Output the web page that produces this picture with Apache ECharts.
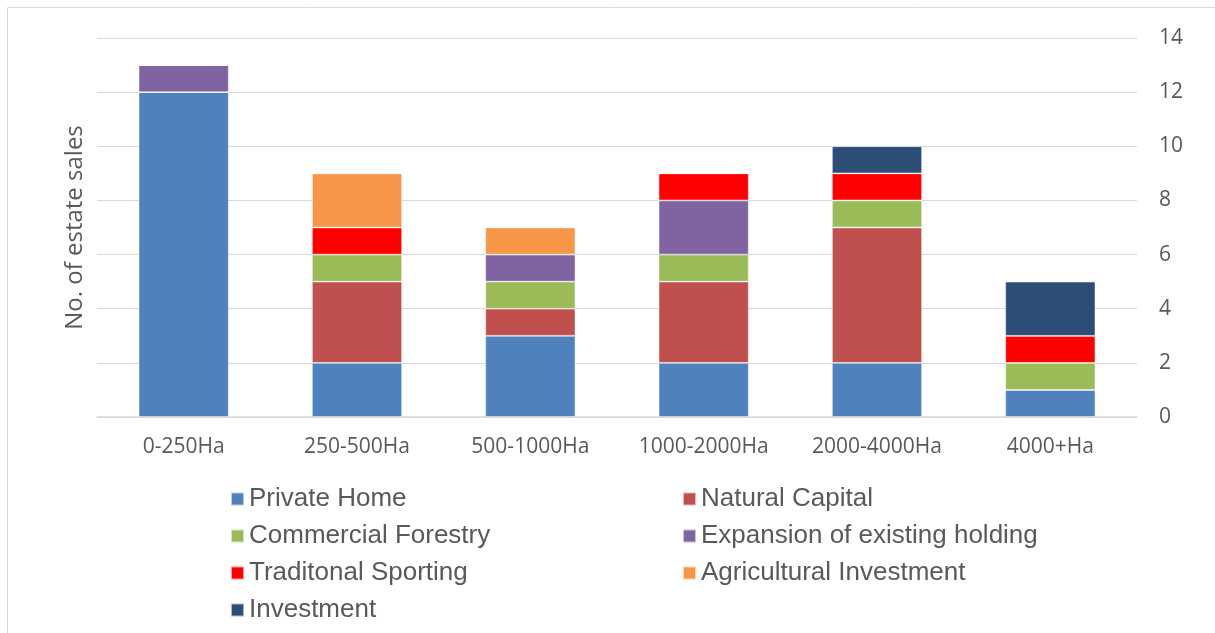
<!DOCTYPE html>
<html>
<head>
<meta charset="utf-8">
<script src="https://cdn.jsdelivr.net/npm/echarts@6/dist/echarts.min.js"></script>
<style>
  html, body { margin: 0; padding: 0; background: #fff; }
  #chart { width: 1215px; height: 633px; }
</style>
</head>
<body>
<div id="chart"></div>
<script>
const categories = ['0-250Ha', '250-500Ha', '500-1000Ha', '1000-2000Ha', '2000-4000Ha', '4000+Ha']
const yTicks = [0, 2, 4, 6, 8, 10, 12, 14]

const privateHome = [12, 2, 3, 2, 2, 1]
const naturalCapital = [0, 3, 1, 3, 5, 0]
const commercialForestry = [0, 1, 1, 1, 1, 1]
const expansion = [1, 0, 1, 2, 0, 0]
const traditionalSporting = [0, 1, 0, 1, 1, 1]
const agriculturalInvestment = [0, 2, 1, 0, 0, 0]
const investment = [0, 0, 0, 0, 1, 2]

const seriesDefs = [
  ['Private Home', privateHome, '#4f81bd'],
  ['Natural Capital', naturalCapital, '#c0504d'],
  ['Commercial Forestry', commercialForestry, '#9bbb59'],
  ['Expansion of existing holding', expansion, '#8064a2'],
  ['Traditonal Sporting', traditionalSporting, '#ff0000'],
  ['Agricultural Investment', agriculturalInvestment, '#f79646'],
  ['Investment', investment, '#2c4d75']
]

const chart = echarts.init(document.getElementById('chart'))

const axisFont = 'Open Sans, Noto Sans, sans-serif'
const legendText = { fontFamily: 'Liberation Sans, Arial', fontSize: 26, color: '#595959', lineHeight: 26 }

let options = {
  animation: false,
  textStyle: { fontFamily: 'Liberation Sans, Arial' },
  graphic: [{
    type: 'rect',
    shape: { x: 7.5, y: 7.5, width: 1230, height: 650 },
    style: { fill: 'none', stroke: '#d9d9d9', lineWidth: 1 },
    silent: true
  }],
  grid: { left: 97, right: 78, top: 38, bottom: 216 },
  legend: [{
    orient: 'vertical',
    left: 225, top: 481,
    itemWidth: 13, itemHeight: 13, itemGap: 11,
    icon: 'rect',
    textStyle: legendText,
    data: ['Private Home', 'Commercial Forestry', 'Traditonal Sporting', 'Investment']
  }, {
    orient: 'vertical',
    left: 677, top: 481,
    itemWidth: 13, itemHeight: 13, itemGap: 11,
    icon: 'rect',
    textStyle: legendText,
    data: ['Natural Capital', 'Expansion of existing holding', 'Agricultural Investment']
  }],
  xAxis: {
    type: 'category',
    data: categories,
    axisLine: { lineStyle: { color: '#d9d9d9', width: 1.5 } },
    axisTick: { show: false },
    axisLabel: { color: '#595959', fontSize: 21, margin: 20, fontFamily: axisFont }
  },
  yAxis: [{
    type: 'value',
    position: 'right',
    min: 0, max: 14, interval: 2,
    axisLine: { show: false },
    axisTick: { show: false },
    splitLine: { lineStyle: { color: '#d9d9d9' } },
    axisLabel: {
      color: '#595959', fontSize: 21, margin: 22, fontFamily: axisFont,
      formatter: v => yTicks.includes(v) ? String(v) : ''
    }
  }, {
    type: 'value',
    position: 'left',
    min: 0, max: 14, interval: 2,
    name: 'No. of estate sales',
    nameLocation: 'middle',
    nameGap: 10,
    nameTextStyle: { color: '#595959', fontSize: 24, fontFamily: axisFont },
    axisLine: { show: false },
    axisTick: { show: false },
    axisLabel: { show: false },
    splitLine: { show: false }
  }],
  series: seriesDefs.map(([name, data, color]) => ({
    name,
    type: 'bar',
    stack: 'total',
    barWidth: '52%',
    data,
    itemStyle: { color, borderColor: 'rgba(255,255,255,0.6)', borderWidth: 0.8 }
  }))
}
options && chart.setOption(options)
</script>
</body>
</html>
